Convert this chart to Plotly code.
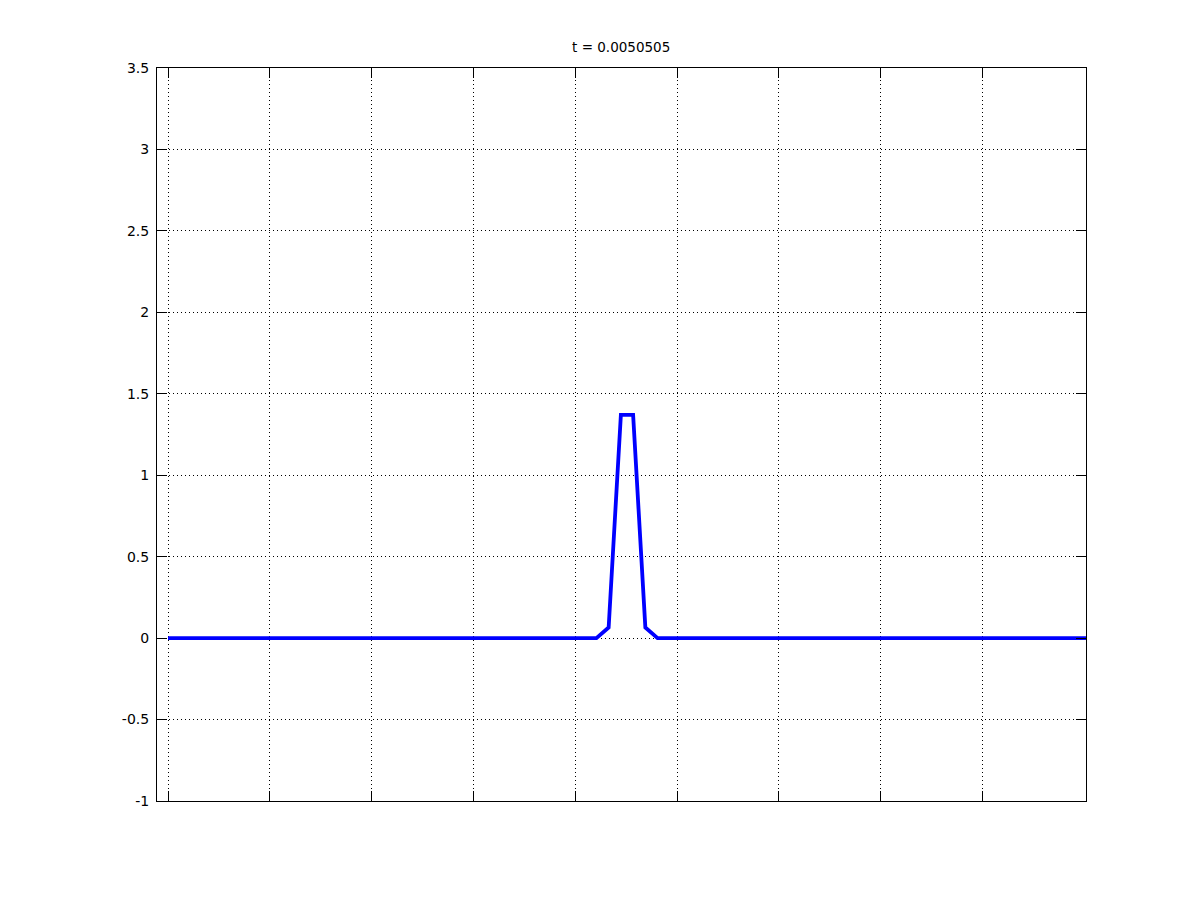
import plotly.graph_objects as go

# sample grid (76 points spanning the domain)
n_points = 76
x_end = 9.017
x = [i * x_end / (n_points - 1) for i in range(n_points)]

# solution values
y = [0.0] * 35 + [0.0, 0.065, 1.37, 1.37, 0.065, 0.0] + [0.0] * 35

title_text = "t = 0.0050505"
x_ticks = [0, 1, 2, 3, 4, 5, 6, 7, 8]
y_ticks = [-1, -0.5, 0, 0.5, 1, 1.5, 2, 2.5, 3, 3.5]
y_tick_labels = ["-1", "-0.5", "0", "0.5", "1", "1.5", "2", "2.5", "3", "3.5"]

fig = go.Figure()
fig.add_trace(go.Scatter(x=x, y=y, mode="lines",
                         line=dict(color="#0000ff", width=3.8),
                         showlegend=False))

fig.update_layout(
    width=1200, height=900,
    paper_bgcolor="white", plot_bgcolor="white",
    margin=dict(l=149, r=122, t=60, b=107),
    font=dict(family="DejaVu Sans, Arial, sans-serif", size=14, color="black"),
    title=dict(text=title_text, x=0.511, xanchor="center",
               y=1 - 39.5 / 900, yanchor="middle", yref="container",
               font=dict(size=13.5, color="black")),
)
fig.update_xaxes(range=[-0.108, x_end], tickvals=x_ticks, showticklabels=False,
                 ticks="inside", ticklen=10, tickcolor="black", tickwidth=1,
                 showline=True, linecolor="black", linewidth=1, mirror="ticks",
                 showgrid=True, gridcolor="black", gridwidth=1, griddash="1px,3px",
                 zeroline=False)
fig.update_yaxes(range=[-1, 3.5], tickvals=y_ticks, ticktext=y_tick_labels,
                 ticks="inside", ticklen=10, tickcolor="black", tickwidth=1,
                 showline=True, linecolor="black", linewidth=1, mirror="ticks",
                 showgrid=True, gridcolor="black", gridwidth=1, griddash="1px,3px",
                 zeroline=False, ticklabelstandoff=4)

fig.write_html("out.html")
